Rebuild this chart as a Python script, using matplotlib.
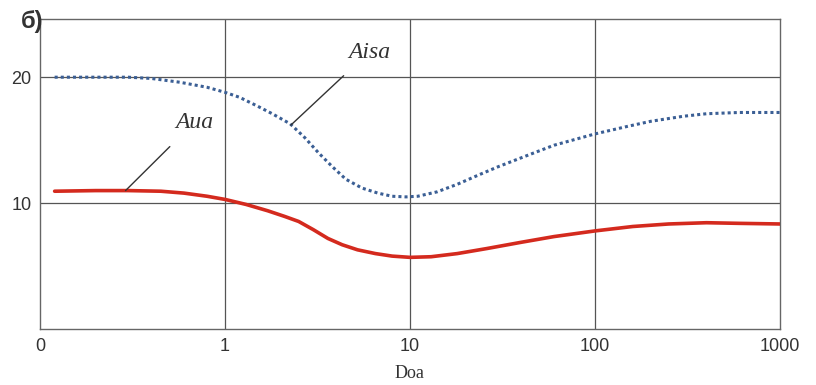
import matplotlib.pyplot as plt
import numpy as np

# data
aisa_x = [0.12, 0.2, 0.3, 0.4, 0.57, 0.8, 1.0, 1.2, 1.5, 1.8, 2.25, 2.7, 3.2, 3.8, 4.5,
          5.5, 6.7, 8.0, 9.5, 11, 14, 18, 24, 30, 45, 60, 100, 150, 200, 300, 400, 600, 1000]
aisa_y = [20.0, 20.0, 20.0, 19.9, 19.6, 19.2, 18.8, 18.4, 17.7, 17.1, 16.3, 15.2, 14.0, 12.9, 11.9,
          11.2, 10.8, 10.55, 10.5, 10.55, 10.9, 11.5, 12.3, 12.9, 13.9, 14.6, 15.5, 16.1, 16.5, 16.9, 17.1, 17.2, 17.2]
aua_x = [0.12, 0.2, 0.3, 0.45, 0.6, 0.8, 1.0, 1.3, 1.7, 2.1, 2.5, 3.0, 3.6, 4.3, 5.2, 6.5,
         8, 10, 13, 18, 26, 40, 60, 100, 160, 250, 400, 600, 1000]
aua_y = [10.95, 11.0, 11.0, 10.95, 10.8, 10.55, 10.3, 9.9, 9.4, 8.95, 8.55, 7.9, 7.2, 6.7, 6.3, 6.0,
         5.8, 5.7, 5.75, 6.0, 6.4, 6.9, 7.35, 7.8, 8.15, 8.35, 8.45, 8.4, 8.35]
x_ticks = [0.1, 1, 10, 100, 1000]
x_labels = ['0', '1', '10', '100', '1000']
y_ticks = [10, 20]

plt.rcParams['font.family'] = ['Liberation Sans', 'DejaVu Sans']

fig = plt.figure(figsize=(8.16, 3.85), dpi=100)
ax = fig.add_axes([0.049, 0.145, 0.907, 0.805])

ax.set_xscale('log')
ax.set_xlim(0.1, 1000)
ax.set_ylim(0, 24.6)
ax.set_xticks(x_ticks)
ax.set_xticklabels(x_labels)
ax.minorticks_off()
ax.set_yticks(y_ticks)
ax.tick_params(length=0, labelsize=13, labelcolor='#333333', pad=6)

# grid
for xv in x_ticks[1:-1]:
    ax.axvline(xv, color='#555555', lw=0.9, zorder=1)
for yv in y_ticks:
    ax.axhline(yv, color='#555555', lw=0.9, zorder=1)
for s in ax.spines.values():
    s.set_color('#666666')
    s.set_linewidth(1.0)

# curves
ax.plot(aisa_x, aisa_y, color='#3b5f95', lw=2.2, ls=(0, (1, 1)), zorder=3)
ax.plot(aua_x, aua_y, color='#d42a1e', lw=2.6, zorder=3,
        solid_capstyle='round', solid_joinstyle='round')

# labels with leader lines
ax.annotate('Aisa', xy=(2.27, 16.2), xytext=(6.0, 22.0), fontsize=17,
            family='Liberation Serif', style='italic', color='#333333',
            ha='center', va='center',
            arrowprops=dict(arrowstyle='-', color='#333333', lw=1.0,
                            shrinkA=11, shrinkB=0))
ax.annotate('Aиa', xy=(0.29, 11.0), xytext=(0.68, 16.4), fontsize=17,
            family='Liberation Serif', style='italic', color='#333333',
            ha='center', va='center',
            arrowprops=dict(arrowstyle='-', color='#333333', lw=1.0,
                            shrinkA=11, shrinkB=0))

fig.text(0.025, 0.943, 'б)', fontsize=17, fontweight='bold', color='#333333',
         ha='left', va='center')
fig.text(0.502, 0.03, 'Doa', fontsize=13, family='Liberation Serif',
         color='#333333', ha='center', va='center')

fig.savefig('out.png', dpi=100)
